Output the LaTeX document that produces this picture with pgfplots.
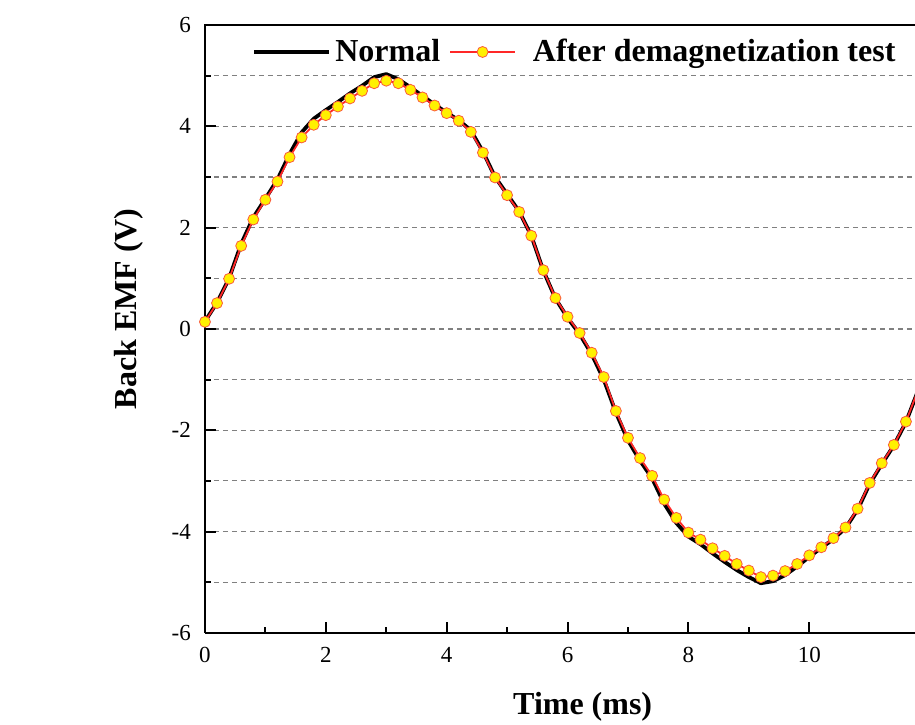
\documentclass[border=0pt]{standalone}
\usepackage{pgfplots}
\pgfplotsset{compat=1.18}
\usepackage{fontspec}
\setmainfont{Liberation Serif}
\definecolor{gridgray}{RGB}{128,128,128}
\definecolor{myred}{RGB}{255,40,40}
\definecolor{markedge}{RGB}{250,90,60}
\definecolor{myyellow}{RGB}{255,240,0}
\begin{document}
\begin{tikzpicture}
\begin{axis}[
  scale only axis,
  width=355.1pt, height=304pt,
  xmin=0, xmax=11.75,
  ymin=-6, ymax=6,
  axis x line*=bottom,
  axis y line*=left,
  axis line style={line width=1.2pt, black},
  xtick={0,2,4,6,8,10},
  ytick={-6,-4,-2,0,2,4,6},
  minor x tick num=1,
  minor y tick num=1,
  tick align=inside,
  major tick length=5.5pt,
  minor tick length=3pt,
  every tick/.style={black, line width=1pt},
  ymajorgrids, yminorgrids,
  major grid style={gridgray, dash pattern=on 2.5pt off 2pt, line width=0.6pt},
  minor grid style={gridgray, dash pattern=on 2.5pt off 2pt, line width=0.6pt},
  /pgf/number format/assume math mode=true,
  ticklabel style={font=\fontsize{11.5}{13}\selectfont},
  yticklabel style={xshift=-3.5pt},
  xticklabel style={yshift=-3.5pt},
  xlabel={Time (ms)},
  ylabel={Back EMF (V)},
  label style={font=\bfseries\fontsize{16}{19}\selectfont},
  xlabel style={at={(axis description cs:0.532,-0.1349)}, anchor=base},
  ylabel style={at={(axis description cs:-0.0971,0.533)}, anchor=base},
  legend style={draw=none, fill=none, at={(0.0662,0.9556)}, anchor=west,
    inner sep=0pt, legend columns=2,
    font=\bfseries\fontsize{16}{19}\selectfont,
    /tikz/every even column/.append style={column sep=2.5pt}},
  legend cell align=left,
]
\addplot[black, line width=1.9pt, line join=round,
  legend image code/.code={\draw[black, line width=2pt] (0pt,0pt) -- (37.5pt,0pt);}]
coordinates {
(0,0.15) (0.2,0.52) (0.4,1.0) (0.6,1.68) (0.8,2.2) (1.0,2.57) (1.2,2.95) (1.4,3.45)
(1.6,3.88) (1.8,4.15) (2.0,4.32) (2.2,4.48) (2.4,4.65) (2.6,4.8) (2.8,4.97) (3.0,5.03)
(3.2,4.93) (3.4,4.77) (3.6,4.6) (3.8,4.43) (4.0,4.27) (4.2,4.12) (4.4,3.92) (4.6,3.5)
(4.8,3.0) (5.0,2.66) (5.2,2.32) (5.4,1.84) (5.6,1.15) (5.8,0.6) (6.0,0.22) (6.2,-0.1)
(6.4,-0.5) (6.6,-1.0) (6.8,-1.65) (7.0,-2.2) (7.2,-2.6) (7.4,-2.95) (7.6,-3.45) (7.8,-3.83)
(8.0,-4.1) (8.2,-4.25) (8.4,-4.43) (8.6,-4.6) (8.8,-4.76) (9.0,-4.9) (9.2,-5.02) (9.4,-4.98)
(9.6,-4.86) (9.8,-4.69) (10.0,-4.5) (10.2,-4.32) (10.4,-4.15) (10.6,-3.93) (10.8,-3.57)
(11.0,-3.06) (11.2,-2.67) (11.4,-2.3) (11.6,-1.84) (11.8,-1.22)
};
\addlegendentry{Normal}
\addplot[myred, line width=0.9pt, mark=*, mark size=2.75pt,
  mark options={fill=myyellow, draw=markedge, line width=0.4pt},
  legend image code/.code={\draw[myred, line width=0.9pt] (0pt,0pt) -- (32.5pt,0pt);
    \draw[fill=myyellow, draw=markedge, line width=0.4pt] (16.25pt,0pt) circle (2.75pt);
    \path (39pt,0pt);}]
coordinates {
(0,0.14) (0.2,0.51) (0.4,0.99) (0.6,1.64) (0.8,2.16) (1.0,2.55) (1.2,2.91) (1.4,3.39)
(1.6,3.78) (1.8,4.03) (2.0,4.22) (2.2,4.39) (2.4,4.55) (2.6,4.70) (2.8,4.85) (3.0,4.90)
(3.2,4.85) (3.4,4.72) (3.6,4.57) (3.8,4.41) (4.0,4.26) (4.2,4.11) (4.4,3.89) (4.6,3.48)
(4.8,2.99) (5.0,2.64) (5.2,2.31) (5.4,1.84) (5.6,1.16) (5.8,0.61) (6.0,0.24) (6.2,-0.08)
(6.4,-0.47) (6.6,-0.95) (6.8,-1.62) (7.0,-2.15) (7.2,-2.55) (7.4,-2.9) (7.6,-3.37) (7.8,-3.73)
(8.0,-4.02) (8.2,-4.16) (8.4,-4.33) (8.6,-4.48) (8.8,-4.64) (9.0,-4.77) (9.2,-4.90) (9.4,-4.87)
(9.6,-4.78) (9.8,-4.64) (10.0,-4.47) (10.2,-4.31) (10.4,-4.13) (10.6,-3.92) (10.8,-3.55)
(11.0,-3.04) (11.2,-2.65) (11.4,-2.29) (11.6,-1.83) (11.8,-1.21)
};
\addlegendentry{After demagnetization test}
\coordinate (SW) at (rel axis cs:0,0);
\coordinate (NW) at (rel axis cs:0,1);
\coordinate (NE) at (rel axis cs:1,1);
\end{axis}
\draw[line width=1.2pt, black, line cap=rect] (NW) -- (NE);
\pgfresetboundingbox
\path[use as bounding box] ([xshift=-102.5pt,yshift=-46pt]SW) rectangle ([yshift=12.5pt]NE);
\end{tikzpicture}
\end{document}
